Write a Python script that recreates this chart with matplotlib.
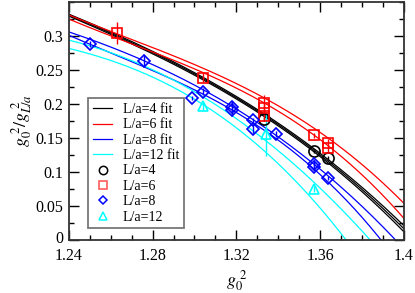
import numpy as np
import matplotlib
matplotlib.use("Agg")
import matplotlib.pyplot as plt
from matplotlib.lines import Line2D
from matplotlib.transforms import ScaledTranslation

plt.rcParams['font.family'] = ['Liberation Serif', 'DejaVu Serif']
plt.rcParams['mathtext.fontset'] = 'stix'

# data points: (g0^2, g0^2/gL^2, error)
x4 = [1.333, 1.357, 1.364]
y4 = [0.178, 0.131, 0.120]
e4 = [0.003, 0.003, 0.003]

x6 = [1.263, 1.304, 1.333, 1.333, 1.333, 1.357, 1.364, 1.364]
y6 = [0.304, 0.239, 0.201, 0.194, 0.182, 0.154, 0.143, 0.135]
e6 = [0.016, 0.006, 0.012, 0.008, 0.006, 0.004, 0.005, 0.005]

x8 = [1.250, 1.276, 1.299, 1.304, 1.318, 1.318, 1.328, 1.328, 1.339, 1.357, 1.357, 1.364]
y8 = [0.288, 0.263, 0.209, 0.218, 0.196, 0.191, 0.176, 0.163, 0.156, 0.112, 0.108, 0.091]
e8 = [0.004, 0.009, 0.003, 0.005, 0.009, 0.009, 0.004, 0.006, 0.004, 0.006, 0.006, 0.003]

x12 = [1.304, 1.334, 1.357]
y12 = [0.197, 0.156, 0.075]
e12 = [0.006, 0.032, 0.005]

# fit bands (upper / lower curve)
fit4_x = [1.24, 1.263, 1.304, 1.333, 1.350, 1.40]
fit4_hi = [0.332, 0.302, 0.240, 0.184, 0.152, 0.021]
fit4_lo = [0.329, 0.299, 0.236, 0.180, 0.148, 0.012]

fit6_x = [1.24, 1.304, 1.333, 1.357, 1.40]
fit6_hi = [0.331, 0.253, 0.209, 0.165, 0.054]
fit6_lo = [0.325, 0.246, 0.203, 0.154, 0.032]

fit8_x_hi = [1.24, 1.304, 1.333, 1.357, 1.396]
fit8_hi = [0.306, 0.222, 0.165, 0.113, 0.0]
fit8_x_lo = [1.24, 1.304, 1.333, 1.357, 1.389]
fit8_lo = [0.301, 0.216, 0.159, 0.107, 0.0]

fit12_x_hi = [1.24, 1.304, 1.333, 1.350, 1.384]
fit12_hi = [0.294, 0.210, 0.151, 0.103, 0.0]
fit12_x_lo = [1.24, 1.304, 1.333, 1.350, 1.373]
fit12_lo = [0.282, 0.196, 0.143, 0.071, 0.0]


def fit_curve(ax, xs, ys, color):
    c = np.polyfit(xs, ys, 3)
    xx = np.linspace(1.24, 1.40, 300)
    ax.plot(xx, np.polyval(c, xx), color=color, lw=0.9)


fig = plt.figure(figsize=(4.15, 2.93), dpi=100)
ax = fig.add_axes([0.166, 0.181, 0.807, 0.812])

fit_curve(ax, fit4_x, fit4_hi, 'black')
fit_curve(ax, fit4_x, fit4_lo, 'black')
fit_curve(ax, fit4_x, [(a + b) / 2 for a, b in zip(fit4_hi, fit4_lo)], 'black')
fit_curve(ax, fit6_x, fit6_hi, 'red')
fit_curve(ax, fit6_x, fit6_lo, 'red')
fit_curve(ax, fit8_x_hi, fit8_hi, 'blue')
fit_curve(ax, fit8_x_lo, fit8_lo, 'blue')
fit_curve(ax, fit12_x_hi, fit12_hi, 'cyan')
fit_curve(ax, fit12_x_lo, fit12_lo, 'cyan')

kw = dict(ls='none', mfc='none', mew=1.2, elinewidth=1.0, capsize=0)
ax.errorbar(x4, y4, yerr=e4, marker='o', ms=8, color='black', **kw)
ax.errorbar(x6, y6, yerr=e6, marker='s', ms=7, color='red', **kw)
ax.errorbar(x8, y8, yerr=e8, marker='D', ms=6, color='blue', **kw)
ax.errorbar(x12, y12, yerr=e12, marker='^', ms=7, color='cyan', **kw)

ax.set_xlim(1.24, 1.40)
ax.set_ylim(0, 0.35)
ax.set_xticks([1.24, 1.28, 1.32, 1.36, 1.40])
ax.set_xticklabels(['1.24', '1.28', '1.32', '1.36', '1.4'])
ax.set_yticks([0, 0.05, 0.1, 0.15, 0.2, 0.25, 0.3])
ax.set_yticklabels(['0', '0.05', '0.1', '0.15', '0.2', '0.25', '0.3'])
ax.set_xticks(np.arange(1.24, 1.401, 0.01), minor=True)
ax.set_yticks(np.arange(0, 0.351, 0.025), minor=True)
ax.tick_params(which='both', direction='in', top=True, right=True, labelsize=11.5)
ax.tick_params(axis='x', pad=6)
ax.tick_params(axis='y', pad=4)
ax.tick_params(which='major', length=7, width=1)
ax.tick_params(which='minor', length=3.5, width=1)
for s in ax.spines.values():
    s.set_linewidth(1.3)
    s.set_color('#333333')

# nudge the "0" y label up a little so it clears "1.24"
zero_lbl = ax.get_yticklabels()[0]
zero_lbl.set_transform(zero_lbl.get_transform() + ScaledTranslation(0, 2 / 72, fig.dpi_scale_trans))

ax.set_xlabel(r'$g_0^{\ 2}$', fontsize=13, labelpad=3)
ax.set_ylabel(r'$g_0^{\ 2}/g_{L/a}^{\ 2}$', fontsize=13, labelpad=1)

handles = [
    Line2D([], [], color='black', lw=0.9),
    Line2D([], [], color='red', lw=0.9),
    Line2D([], [], color='blue', lw=0.9),
    Line2D([], [], color='cyan', lw=0.9),
    Line2D([], [], ls='none', marker='o', ms=6, mfc='none', mec='black', mew=1.1),
    Line2D([], [], ls='none', marker='s', ms=5.5, mfc='none', mec='#ff5050', mew=1.1),
    Line2D([], [], ls='none', marker='D', ms=4.5, mfc='none', mec='blue', mew=1.1),
    Line2D([], [], ls='none', marker='^', ms=6, mfc='none', mec='cyan', mew=1.1),
]
labels = ['L/a=4 fit', 'L/a=6 fit', 'L/a=8 fit', 'L/a=12 fit',
          'L/a=4', 'L/a=6', 'L/a=8', 'L/a=12']
leg = ax.legend(handles, labels, loc='upper left', bbox_to_anchor=(0.057, 0.596),
                borderaxespad=0, fontsize=10, frameon=True, fancybox=False,
                handlelength=1.4, handletextpad=0.75, labelspacing=0.17,
                borderpad=0.35)
leg.get_frame().set_edgecolor('#555555')
leg.get_frame().set_linewidth(1.3)

fig.savefig('out.png', dpi=100)
